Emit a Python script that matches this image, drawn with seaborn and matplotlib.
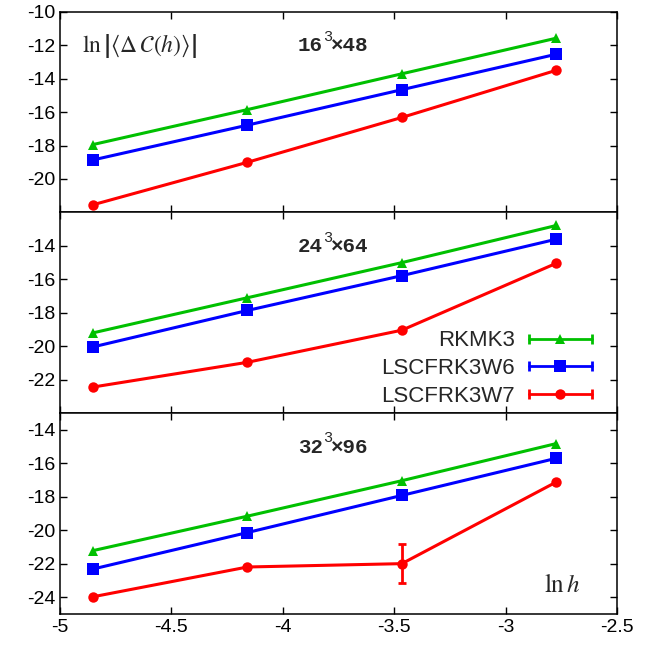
import numpy as np
import pandas as pd
import matplotlib
matplotlib.use("Agg")
import matplotlib.pyplot as plt
import seaborn as sns
from matplotlib.lines import Line2D
from matplotlib.legend_handler import HandlerLine2D, HandlerTuple

# ln h values (h = 1/128, 1/64, 1/32, 1/16)
ln_h = [-4.852, -4.159, -3.466, -2.773]
methods = ["RKMK3", "LSCFRK3W6", "LSCFRK3W7"]
lat_base = ["16", "24", "32"]
lat_rest = ["×48", "×64", "×96"]

# ln|<dC(h)>|, per lattice
rkmk3 = [
    [-17.94, -15.85, -13.71, -11.58],
    [-19.20, -17.10, -15.00, -12.78],
    [-21.22, -19.16, -17.04, -14.82],
]
w6 = [
    [-18.86, -16.78, -14.66, -12.54],
    [-20.04, -17.86, -15.78, -13.60],
    [-22.32, -20.14, -17.92, -15.70],
]
w7 = [
    [-21.54, -19.00, -16.32, -13.50],
    [-22.44, -20.96, -19.04, -15.04],
    [-23.98, -22.20, -22.00, -17.12],
]
# only visible error bar: 32^3x96, LSCFRK3W7 at third point
w7_err_32 = [0.0, 0.0, 1.16, 0.0]

ylims = [(-22, -10), (-24, -12), (-25, -13)]
yticks = [np.arange(-20, -9, 2), np.arange(-22, -13, 2), np.arange(-24, -13, 2)]

colors = {"RKMK3": "#00c000", "LSCFRK3W6": "#0000ff", "LSCFRK3W7": "#ff0000"}
marks = {"RKMK3": "^", "LSCFRK3W6": "s", "LSCFRK3W7": "o"}
msize = {"RKMK3": 6.5, "LSCFRK3W6": 8, "LSCFRK3W7": 7.5}

rows = []
for i in range(3):
    for name, vals in zip(methods, [rkmk3, w6, w7]):
        for x, y in zip(ln_h, vals[i]):
            rows.append({"panel": i, "method": name, "lnh": x, "val": y})
df = pd.DataFrame(rows)

sns.set_style("ticks")
plt.rcParams["font.family"] = ["Liberation Sans", "DejaVu Sans"]
plt.rcParams["mathtext.fontset"] = "stix"

fig, axes = plt.subplots(3, 1, figsize=(6.6, 6.53), dpi=100, sharex=True)
fig.subplots_adjust(left=0.091, right=0.935, top=0.982, bottom=0.06, hspace=0)

for i, ax in enumerate(axes):
    sub = df[df["panel"] == i]
    for name in methods:
        d = sub[sub["method"] == name]
        sns.lineplot(data=d, x="lnh", y="val", ax=ax, color=colors[name],
                     marker=marks[name], markersize=msize[name], markeredgewidth=0,
                     linewidth=2.2, legend=False, errorbar=None)
    if i == 2:
        ax.errorbar(ln_h, w7[2], yerr=w7_err_32, fmt="none", ecolor=colors["LSCFRK3W7"],
                    elinewidth=2, capsize=3, capthick=2)
    ax.set_xlim(-5, -2.5)
    ax.set_ylim(*ylims[i])
    ax.set_yticks(yticks[i])
    ax.set_yticklabels([f"{int(t)}" for t in yticks[i]])
    ax.set_xticks([-5, -4.5, -4, -3.5, -3, -2.5])
    ax.tick_params(direction="in", top=True, right=True, length=5, width=1,
                   labelsize=14, colors="black")
    for s in ax.spines.values():
        s.set_linewidth(1.1)
        s.set_color("black")
    ax.set_xlabel("")
    ax.set_ylabel("")
    # lattice label: 16^3x48 style, bold mono with superscript
    ax.text(0.427, 0.83, lat_base[i], transform=ax.transAxes, fontsize=15,
            fontweight="bold", family="Liberation Mono", va="center", ha="left")
    ax.text(0.472, 0.875, "3", transform=ax.transAxes, fontsize=11,
            family="Liberation Mono", va="center", ha="left")
    ax.text(0.486, 0.83, lat_rest[i], transform=ax.transAxes, fontsize=15,
            fontweight="bold", family="Liberation Mono", va="center", ha="left")

axes[2].set_xticklabels(["-5", "-4.5", "-4", "-3.5", "-3", "-2.5"])

axes[0].text(0.04, 0.83, r"$\ln\left|\langle\Delta\,\mathcal{C}(h)\rangle\right|$",
             transform=axes[0].transAxes, fontsize=17, va="center", ha="left")
axes[2].text(0.935, 0.145, r"$\ln h$", transform=axes[2].transAxes,
             fontsize=18, va="center", ha="right")

# gnuplot-style legend: line with end caps and marker in the middle
handles = []
hmap = {}
for name in methods:
    cap = Line2D([], [], color=colors[name], lw=2, marker="|", markersize=7, mew=2)
    mk = Line2D([], [], color=colors[name], ls="none", marker=marks[name],
                markersize=msize[name], mew=0)
    hmap[cap] = HandlerLine2D(numpoints=2)
    hmap[mk] = HandlerLine2D(numpoints=1)
    handles.append((cap, mk))
hmap[tuple] = HandlerTuple(ndivide=1, pad=0)
axes[1].legend(handles, methods, handler_map=hmap, loc="lower right",
               bbox_to_anchor=(0.99, -0.035), frameon=False, markerfirst=False,
               fontsize=16, handlelength=3.4, handletextpad=0.35, labelspacing=0.3,
               borderpad=0.1)

plt.savefig("out.png", dpi=100)
